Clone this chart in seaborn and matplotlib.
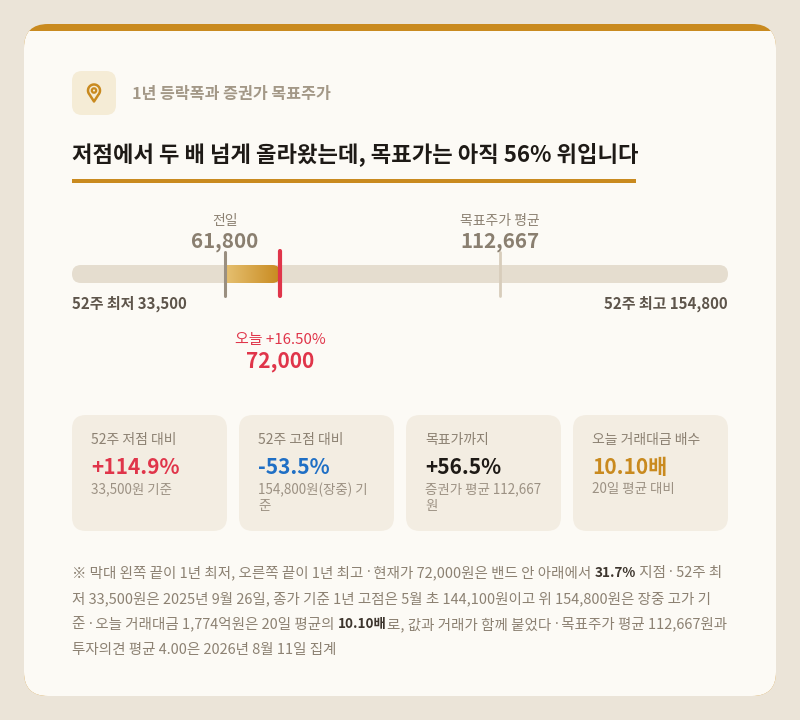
import numpy as np
import pandas as pd
import matplotlib
matplotlib.use("Agg")
import matplotlib.pyplot as plt
import seaborn as sns
from matplotlib.patches import FancyBboxPatch, Rectangle, Circle, PathPatch
from matplotlib.path import Path
from matplotlib.colors import to_rgb

# data
low_52w = 33500
high_52w = 154800
prev_close = 61800
today_close = 72000
target_avg = 112667
today_change = "+16.50%"

card_labels = ["52주 저점 대비", "52주 고점 대비", "목표가까지", "오늘 거래대금 배수"]
card_values = ["+114.9%", "-53.5%", "+56.5%", "10.10배"]
card_subs = ["33,500원 기준", "154,800원(장중) 기\n준", "증권가 평균 112,667\n원", "20일 평균 대비"]
card_colors = ["#E0354A", "#1F6FC5", "#1E1A16", "#C98A1F"]

subtitle = "1년 등락폭과 증권가 목표주가"
title = "저점에서 두 배 넘게 올라왔는데, 목표가는 아직 56% 위입니다"

note_lines = [
    [("※ 막대 왼쪽 끝이 1년 최저, 오른쪽 끝이 1년 최고 · 현재가 72,000원은 밴드 안 아래에서 ", False),
     ("31.7%", True), (" 지점 · 52주 최", False)],
    [("저 33,500원은 2025년 9월 26일, 종가 기준 1년 고점은 5월 초 144,100원이고 위 154,800원은 장중 고가 기", False)],
    [("준 · 오늘 거래대금 1,774억원은 20일 평균의 ", False), ("10.10배", True),
     ("로, 값과 거래가 함께 붙었다 · 목표주가 평균 112,667원과", False)],
    [("투자의견 평균 4.00은 2026년 8월 11일 집계", False)],
]

GOLD = "#C98A1F"
RED = "#E0354A"
BG = "#EBE4D8"
CARD = "#FCFAF5"

sns.set_theme(style="white")
plt.rcParams["font.family"] = ["Noto Sans CJK KR", "DejaVu Sans"]

fig = plt.figure(figsize=(8, 7.2), dpi=100)
fig.patch.set_facecolor(BG)

# pixel canvas for the card furniture
cv = fig.add_axes([0, 0, 1, 1])
cv.set_xlim(0, 800)
cv.set_ylim(720, 0)
cv.axis("off")

card = FancyBboxPatch((24, 24), 752, 672, boxstyle="round,pad=0,rounding_size=24",
                      facecolor=GOLD, edgecolor="none")
cv.add_patch(card)
inner = Rectangle((24, 30.5), 752, 670, facecolor=CARD, edgecolor="none")
cv.add_patch(inner)
inner.set_clip_path(card)

# header
cv.add_patch(FancyBboxPatch((72, 71), 44, 44, boxstyle="round,pad=0,rounding_size=10",
                            facecolor="#F5ECD6", edgecolor="none"))
ang = np.radians(np.linspace(-40, 220, 60))
r = 6.0
px = 94 + r * np.cos(ang)
py = 90.5 - r * np.sin(ang)
verts = list(zip(px, py)) + [(94, 101.5), (px[0], py[0])]
cv.add_patch(PathPatch(Path(verts), facecolor="none", edgecolor=GOLD, lw=1.8, joinstyle="round"))
cv.add_patch(Circle((94, 90.5), 2.2, facecolor="none", edgecolor=GOLD, lw=1.6))
cv.text(132, 94, subtitle, fontsize=11.6, color="#A39887", fontweight="bold", va="center")

cv.text(72, 154, title, fontsize=16, color="#1E1A16", fontweight="bold", va="center")
cv.add_patch(Rectangle((72, 179), 564, 3.5, facecolor=GOLD, edgecolor="none"))

# range track
cv.add_patch(FancyBboxPatch((72, 265), 656, 18, boxstyle="round,pad=0,rounding_size=9",
                            facecolor="#E5DDCF", edgecolor="none"))

# range axes: x in won, y in pixels
ax = fig.add_axes([72 / 800, 0, 656 / 800, 1])
ax.axis("off")
ax.patch.set_alpha(0)

c0 = np.array(to_rgb("#E6C172"))
c1 = np.array(to_rgb("#C8891E"))
grad = np.linspace(0, 1, 256)[:, None] * (c1 - c0) + c0
img = ax.imshow(grad[None, :, :], extent=(prev_close, today_close, 283, 265),
                aspect="auto", zorder=1)
ax.set_xlim(low_52w, high_52w)
ax.set_ylim(720, 0)
fig.canvas.draw()
today_px = cv.transData.inverted().transform(ax.transData.transform((today_close, 0)))[0]
clip = FancyBboxPatch((today_px - 60, 265), 60, 18, boxstyle="round,pad=0,rounding_size=8",
                      transform=cv.transData, facecolor="none", edgecolor="none")
img.set_clip_path(clip)

markers = pd.DataFrame({
    "name": ["prev", "prev", "today", "today", "target", "target"],
    "won": [prev_close, prev_close, today_close, today_close, target_avg, target_avg],
    "y": [252, 296, 251, 296, 252, 296],
})
sns.lineplot(data=markers, x="won", y="y", hue="name", size="name", units="name",
             estimator=None, sort=False, legend=False, ax=ax,
             palette={"prev": "#9A8F80", "today": RED, "target": "#D8CDBB"},
             sizes={"prev": 2.2, "today": 3.0, "target": 2.0}, zorder=3)
ax.set_xlim(low_52w, high_52w)
ax.set_ylim(720, 0)
ax.set_xlabel("")
ax.set_ylabel("")

ax.text(prev_close, 221, "전일", ha="center", va="center", fontsize=10, color="#8C8172")
ax.text(prev_close, 242, f"{prev_close:,}", ha="center", va="center", fontsize=14.8,
        color="#8A7F70", fontweight="bold")
ax.text(target_avg, 221, "목표주가 평균", ha="center", va="center", fontsize=10, color="#8C8172")
ax.text(target_avg, 242, f"{target_avg:,}", ha="center", va="center", fontsize=14.8,
        color="#8A7F70", fontweight="bold")
ax.text(low_52w, 304, f"52주 최저 {low_52w:,}", ha="left", va="center", fontsize=10.8,
        color="#5E554B", fontweight="bold")
ax.text(high_52w, 304, f"52주 최고 {high_52w:,}", ha="right", va="center", fontsize=10.8,
        color="#5E554B", fontweight="bold")
ax.text(today_close, 340, f"오늘 {today_change}", ha="center", va="center", fontsize=10.8, color=RED)
ax.text(today_close, 361, f"{today_close:,}", ha="center", va="center", fontsize=15,
        color=RED, fontweight="bold")

# stat cards
cw, gap = 155, 12
for i, (lab, val, sub, col) in enumerate(zip(card_labels, card_values, card_subs, card_colors)):
    x0 = 72 + i * (cw + gap)
    cv.add_patch(FancyBboxPatch((x0, 415), cw, 116, boxstyle="round,pad=0,rounding_size=14",
                                facecolor="#F3EDE2", edgecolor="none"))
    cv.text(x0 + 19, 440, lab, fontsize=10, color="#8C8172", va="center")
    cv.text(x0 + 19, 467, val, fontsize=15, color=col, fontweight="bold", va="center")
    cv.text(x0 + 19, 482.5, sub, fontsize=9.7, color="#9C9183", va="top", linespacing=1.2)

# footnote with bold runs; the middle dot comes from a latin font so it stays narrow
renderer = fig.canvas.get_renderer()
for li, segs in enumerate(note_lines):
    y = 573 + li * 25.7
    x = 72
    for txt, bold in segs:
        parts = txt.split("·")
        pieces = []
        for k, p in enumerate(parts):
            if k:
                pieces.append(("·", ["Noto Sans", "DejaVu Sans"]))
            if p:
                pieces.append((p, ["Noto Sans CJK KR", "DejaVu Sans"]))
        for p, fam in pieces:
            t = cv.text(x, y, p, fontsize=9.7 if bold else 10.45, va="center", family=fam,
                        color="#3D352D" if bold else "#8C8172",
                        fontweight="bold" if bold else "normal")
            bb = t.get_window_extent(renderer=renderer)
            x += bb.width * 800 / fig.bbox.width

fig.savefig("out.png", dpi=100, facecolor=BG)
